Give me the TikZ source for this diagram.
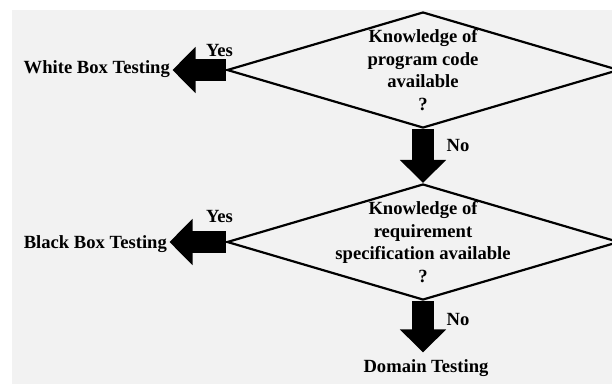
\documentclass[tikz,border=0pt]{standalone}
\usepackage{fontspec}
\setmainfont{Liberation Serif}
\usetikzlibrary{shapes.geometric,arrows.meta}
\definecolor{panel}{HTML}{F2F2F2}
\tikzset{
  decision/.style={diamond, draw=black, line width=2.2pt, inner sep=0pt,
    minimum width=392pt, minimum height=116pt},
  txt/.style={font=\fontsize{18.6}{22.6}\selectfont\bfseries, inner sep=0pt, align=center},
  blockarrow/.style={line width=22pt, line cap=butt,
    -{Triangle[length=23pt,width=45pt]}},
}
\begin{document}
\begin{tikzpicture}[x=1pt,y=-1pt]
  \useasboundingbox (0,0) rectangle (612,384);
  \clip (0,0) rectangle (612,384);
  \fill[panel] (12,10) rectangle (612,384);

  % decisions
  \node[decision] (d1) at (423,70) {};
  \node[decision] (d2) at (423,242) {};
  \node[txt] (q1) at (d1.center) {Knowledge of\\program code\\available\\?};
  \node[txt] (q2) at (d2.center) {Knowledge of\\requirement\\specification available\\?};

  % outcomes
  \node[txt, anchor=base east, inner xsep=2.5pt] (white) at (172.5,73) {White Box Testing};
  \node[txt, anchor=base east, inner xsep=2.5pt] (black) at (169.5,248) {Black Box Testing};
  \node[txt, anchor=base, inner ysep=6.5pt] (dom) at (426,372) {Domain Testing};

  % connectors
  \draw[blockarrow] (d1.west) -- (d1.west -| white.east);
  \draw[blockarrow] (d1.south) -- (d2.north);
  \draw[blockarrow] (d2.west) -- (d2.west -| black.east);
  \draw[blockarrow] (d2.south) -- (d2.south |- dom.north);

  % branch labels
  \node[txt, anchor=base] (yes1) at (219.5,56) {Yes};
  \node[txt, anchor=base] (yes2) at (219.5,222) {Yes};
  \node[txt, anchor=base] (no1) at (458,151) {No};
  \node[txt, anchor=base] (no2) at (458,325) {No};
\end{tikzpicture}
\end{document}
